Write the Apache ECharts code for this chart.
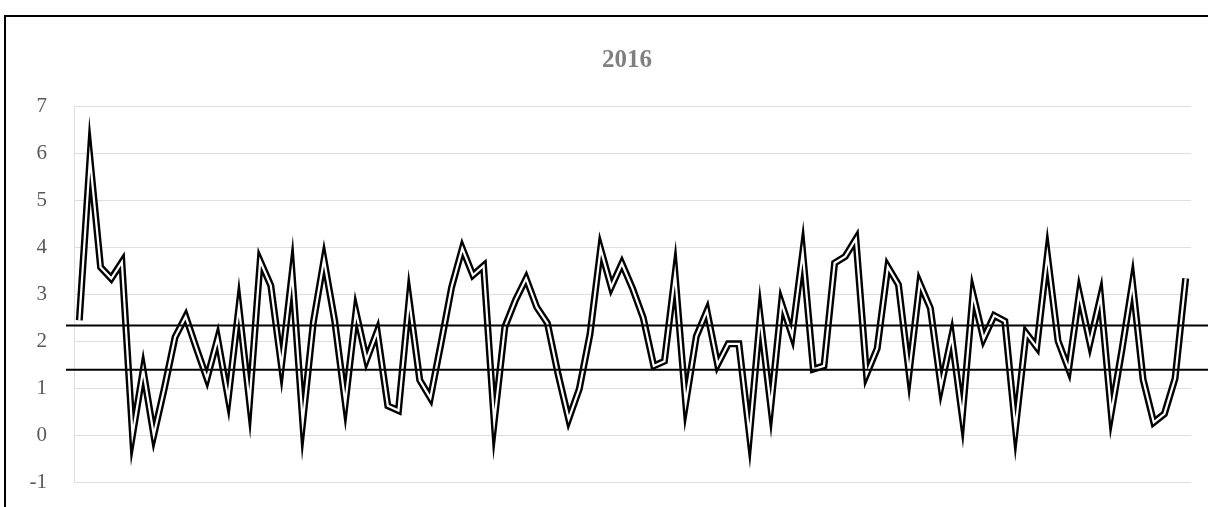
<!DOCTYPE html>
<html>
<head>
<meta charset="utf-8">
<title>2016</title>
<script src="https://cdn.jsdelivr.net/npm/echarts@6/dist/echarts.min.js"></script>
<style>
  html, body { margin: 0; padding: 0; background: #ffffff; }
  #main { width: 1208px; height: 507px; }
</style>
</head>
<body>
<div id="main"></div>
<script>
// 数据
var chartTitle = '2016';
var values = [
  2.44, 5.88, 3.57, 3.33, 3.68, 0.0, 1.38, 0.0, 1.0, 2.08,
  2.52, 1.85, 1.2, 2.05, 0.78, 2.72, 0.7, 3.7, 3.18, 1.47,
  3.44, 0.28, 2.4, 3.73, 2.44, 0.68, 2.62, 1.6, 2.2, 0.62,
  0.52, 2.88, 1.17, 0.79, 1.95, 3.15, 3.97, 3.4, 3.6, 0.28,
  2.3, 2.87, 3.33, 2.72, 2.38, 1.3, 0.34, 0.98, 2.14, 3.96,
  3.15, 3.65, 3.12, 2.5, 1.47, 1.57, 3.42, 0.68, 2.1, 2.64,
  1.5, 1.94, 1.94, 0.0, 2.51, 0.6, 2.81, 2.12, 3.88, 1.4,
  1.47, 3.66, 3.8, 4.17, 1.29, 1.84, 3.58, 3.2, 1.32, 3.23,
  2.7, 1.03, 2.1, 0.39, 3.0, 2.05, 2.54, 2.42, 0.14, 2.17,
  1.87, 3.83, 2.0, 1.4, 3.01, 1.96, 2.94, 0.47, 1.8, 3.24,
  1.18, 0.27, 0.45, 1.2, 3.33
];
var categories = values.map(function (v, i) { return String(i + 1); });
var refLines = [2.33, 1.39];
var yMin = -1, yMax = 7, yStep = 1;

var chart = echarts.init(document.getElementById('main'));

var series = [
  {
    // 双线: 外层黑线
    name: 'outer',
    type: 'line',
    xAxisIndex: 0, yAxisIndex: 0,
    data: values,
    symbol: 'none',
    silent: true,
    z: 2,
    lineStyle: { color: '#000000', width: 7, join: 'miter', miterLimit: 60, cap: 'butt' }
  },
  {
    // 双线: 内层白线
    name: 'inner',
    type: 'line',
    xAxisIndex: 0, yAxisIndex: 0,
    data: values,
    symbol: 'none',
    silent: true,
    z: 3,
    lineStyle: { color: '#ffffff', width: 2.2, join: 'miter', miterLimit: 60, cap: 'butt' }
  }
];

refLines.forEach(function (v, k) {
  series.push({
    name: 'ref' + k,
    type: 'line',
    xAxisIndex: 1, yAxisIndex: 1,
    data: [[0, v], [1, v]],
    symbol: 'none',
    silent: true,
    z: 4,
    lineStyle: { color: '#000000', width: 2 }
  });
});

chart.setOption({
  animation: false,
  backgroundColor: '#ffffff',
  title: {
    text: chartTitle,
    left: 597,
    top: 43,
    textStyle: {
      fontFamily: 'Liberation Serif',
      fontSize: 25,
      fontWeight: 'bold',
      color: '#7f7f7f'
    }
  },
  graphic: [{
    type: 'rect',
    shape: { x: 5, y: 16, width: 1300, height: 600 },
    style: { fill: 'none', stroke: '#000000', lineWidth: 2 },
    silent: true,
    z: -1
  }],
  grid: [
    { left: 74, right: 17, top: 106, bottom: 25 },
    { left: 66, right: 0, top: 106, bottom: 25 }
  ],
  xAxis: [
    {
      gridIndex: 0,
      type: 'category',
      data: categories,
      boundaryGap: true,
      axisLine: { show: false },
      axisTick: { show: false },
      axisLabel: { show: false },
      splitLine: { show: false }
    },
    {
      gridIndex: 1,
      type: 'value',
      min: 0, max: 1,
      show: false
    }
  ],
  yAxis: [
    {
      gridIndex: 0,
      type: 'value',
      min: yMin, max: yMax, interval: yStep,
      axisLine: { show: true, lineStyle: { color: '#dedede', width: 1 } },
      axisTick: { show: false },
      axisLabel: {
        margin: 27,
        fontFamily: 'Liberation Serif',
        fontSize: 21,
        color: '#595959'
      },
      splitLine: { show: true, lineStyle: { color: '#dedede', width: 1.2 } }
    },
    {
      gridIndex: 1,
      type: 'value',
      min: yMin, max: yMax,
      show: false
    }
  ],
  series: series
});
</script>
</body>
</html>
